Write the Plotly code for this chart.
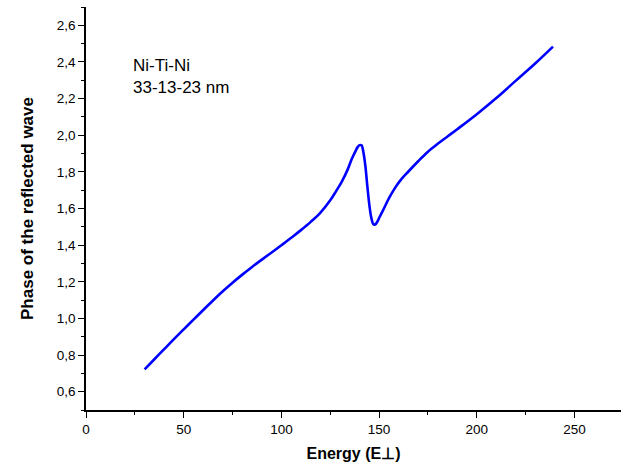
import plotly.graph_objects as go

energy = [30, 35, 40, 45, 50, 55, 60, 65, 70, 75, 80, 85, 90, 95, 100, 105, 110, 115, 120,
          125, 128, 131, 134, 136, 138, 139, 140, 141, 142, 143, 144, 145, 146, 147, 148, 149,
          150, 152, 155, 158, 161, 165, 170, 175, 180, 185, 190, 200, 210, 220, 230, 239]
phase = [0.722, 0.777, 0.832, 0.887, 0.940, 0.993, 1.046, 1.098, 1.148, 1.195, 1.239, 1.281,
         1.321, 1.360, 1.399, 1.440, 1.482, 1.527, 1.578, 1.645, 1.695, 1.748, 1.815, 1.870,
         1.915, 1.935, 1.946, 1.945, 1.905, 1.830, 1.720, 1.620, 1.550, 1.515, 1.513, 1.526,
         1.548, 1.590, 1.655, 1.710, 1.755, 1.802, 1.858, 1.910, 1.953, 1.993, 2.033, 2.115,
         2.203, 2.298, 2.393, 2.484]

x_ticks = [0, 50, 100, 150, 200, 250]
y_ticks = [0.6, 0.8, 1.0, 1.2, 1.4, 1.6, 1.8, 2.0, 2.2, 2.4, 2.6]
note = "Ni-Ti-Ni<br>33-13-23 nm"

fig = go.Figure()
fig.add_trace(go.Scatter(x=energy, y=phase, mode="lines",
                         line=dict(color="#0000FF", width=2.6, shape="spline", smoothing=1.0),
                         showlegend=False))

font_family = "Liberation Sans, Arial, sans-serif"
fig.update_layout(
    width=621, height=468,
    margin=dict(l=86, r=0, t=7, b=58),
    paper_bgcolor="white", plot_bgcolor="white",
    separators=",.",
    font=dict(family=font_family, color="black", size=13.5),
    xaxis=dict(range=[0, 273.8], tickvals=x_ticks, ticks="outside", ticklen=6, tickwidth=1.4,
               tickcolor="black", showline=True, linecolor="black", linewidth=1.5,
               showgrid=False, zeroline=False, automargin=False,
               minor=dict(dtick=25, tick0=25, ticks="outside", ticklen=3, tickwidth=1.4, tickcolor="black"),
               title=dict(text="<b>Energy (E⊥)</b>", font=dict(size=16), standoff=12),
               tickfont=dict(size=13.5)),
    yaxis=dict(range=[0.5, 2.7], tickvals=y_ticks, tickformat=".1f", ticks="outside", ticklen=6,
               tickwidth=1.4, tickcolor="black", showline=True, linecolor="black", linewidth=1.5,
               showgrid=False, zeroline=False, automargin=False,
               minor=dict(dtick=0.2, tick0=0.5, ticks="outside", ticklen=3, tickwidth=1.4, tickcolor="black"),
               title=dict(text="<b>Phase of the reflected wave</b>", font=dict(size=17), standoff=19),
               tickfont=dict(size=13.5)),
    annotations=[dict(text=note, x=23.0, y=2.32, xref="x", yref="y", xanchor="left",
                      yanchor="middle", align="left", showarrow=False,
                      font=dict(size=17, family=font_family, color="black"))],
)

fig.write_html("out.html", config={"displayModeBar": False},
               post_script="document.body.style.margin='0';document.body.style.overflow='hidden';")
